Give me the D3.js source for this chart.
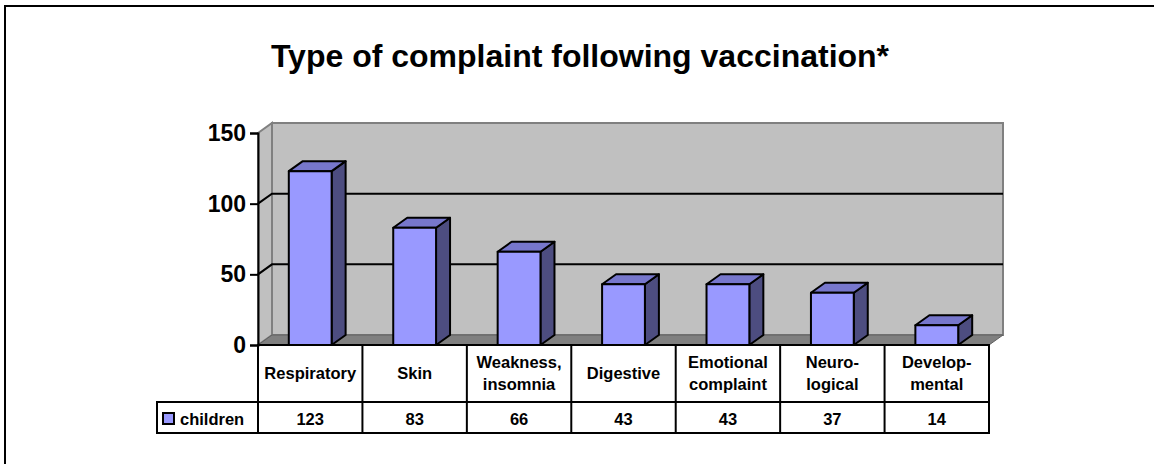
<!DOCTYPE html>
<html>
<head>
<meta charset="utf-8">
<script src="https://cdn.jsdelivr.net/npm/d3@7"></script>
<style>
  body { margin: 0; background: #fff; }
  text { font-family: "Liberation Sans", Arial, sans-serif; font-weight: bold; fill: #000; }
</style>
</head>
<body>
<svg width="1154" height="464"></svg>
<script>
const categories = [
  ["Respiratory"],
  ["Skin"],
  ["Weakness,", "insomnia"],
  ["Digestive"],
  ["Emotional", "complaint"],
  ["Neuro-", "logical"],
  ["Develop-", "mental"]
];
const children = [123, 83, 66, 43, 43, 37, 14];
const yTicks = [0, 50, 100, 150];
const seriesName = "children";
const title = "Type of complaint following vaccination*";

const svg = d3.select("svg");

// 3d depth offset
const dx = 14, dy = -10;

const x = d3.scaleBand()
  .domain(d3.range(categories.length))
  .range([258, 989])
  .padding(0);

const y = d3.scaleLinear()
  .domain([0, 150])
  .range([345, 133]);

const barW = x.bandwidth() * 0.41;

// outer frame
svg.append("rect")
  .attr("x", 5).attr("y", 6)
  .attr("width", 1160).attr("height", 470)
  .attr("fill", "none")
  .attr("stroke", "#000")
  .attr("stroke-width", 2);

svg.append("text")
  .attr("x", 580).attr("y", 67)
  .attr("text-anchor", "middle")
  .style("font-size", "32px")
  .text(title);

const x0 = x.range()[0], x1 = x.range()[1];
const yTop = y(150), yBot = y(0);

// back wall
svg.append("rect")
  .attr("x", x0 + dx).attr("y", yTop + dy)
  .attr("width", x1 - x0).attr("height", yBot - yTop)
  .attr("fill", "#c0c0c0")
  .attr("stroke", "#808080")
  .attr("stroke-width", 2);

// side wall
svg.append("path")
  .attr("d", `M${x0},${yTop}L${x0 + dx},${yTop + dy}L${x0 + dx},${yBot + dy}L${x0},${yBot}Z`)
  .attr("fill", "#c0c0c0")
  .attr("stroke", "#808080")
  .attr("stroke-width", 2);

// floor
svg.append("path")
  .attr("d", `M${x0},${yBot}L${x0 + dx},${yBot + dy}L${x1 + dx},${yBot + dy}L${x1},${yBot}Z`)
  .attr("fill", "#808080")
  .attr("stroke", "#606060")
  .attr("stroke-width", 1);

// gridlines
const grid = yTicks.filter(d => d > 0 && d < 150);
svg.append("g").selectAll("path")
  .data(grid)
  .join("path")
  .attr("d", d => `M${x0},${y(d)}L${x0 + dx},${y(d) + dy}L${x1 + dx},${y(d) + dy}`)
  .attr("fill", "none")
  .attr("stroke", "#000")
  .attr("stroke-width", 2);

// bars
const bars = svg.append("g").selectAll("g")
  .data(children)
  .join("g");

bars.each(function(v, i) {
  const g = d3.select(this);
  const bx = x(i) + (x.bandwidth() - barW) / 2;
  const top = y(v), bot = y(0);
  g.append("path")
    .attr("d", `M${bx + barW},${bot}L${bx + barW + dx},${bot + dy}L${bx + barW + dx},${top + dy}L${bx + barW},${top}Z`)
    .attr("fill", "#4d4d80");
  g.append("path")
    .attr("d", `M${bx},${top}L${bx + dx},${top + dy}L${bx + barW + dx},${top + dy}L${bx + barW},${top}Z`)
    .attr("fill", "#7777cc");
  g.append("rect")
    .attr("x", bx).attr("y", top)
    .attr("width", barW).attr("height", bot - top)
    .attr("fill", "#9999ff");
  g.selectAll("path, rect")
    .attr("stroke", "#000")
    .attr("stroke-width", 2)
    .attr("stroke-linejoin", "round");
});

// y axis
const yAxis = svg.append("g")
  .attr("transform", `translate(${x0},0)`)
  .call(d3.axisLeft(y).tickValues(yTicks).tickSize(8).tickPadding(4));
yAxis.select(".domain").attr("stroke-width", 2);
yAxis.selectAll(".tick line").attr("stroke-width", 2);
yAxis.selectAll(".tick text")
  .style("font-size", "23px")
  .style("font-family", '"Liberation Sans", Arial, sans-serif')
  .style("font-weight", "bold")
  .attr("fill", "#000");

// data table
const rowH1 = [345, 402], rowH2 = [402, 433];
const legendX = 157;
const tbl = svg.append("g");

const lines = [
  [x0, rowH1[0], x1, rowH1[0]],
  [legendX, rowH2[0], x1, rowH2[0]],
  [legendX, rowH2[1], x1, rowH2[1]],
  [legendX, rowH2[0], legendX, rowH2[1]]
];
x.domain().concat([categories.length]).forEach(i => {
  const xx = i < categories.length ? x(i) : x1;
  lines.push([xx, rowH1[0], xx, rowH2[1]]);
});
tbl.selectAll("line")
  .data(lines)
  .join("line")
  .attr("x1", d => d[0]).attr("y1", d => d[1])
  .attr("x2", d => d[2]).attr("y2", d => d[3])
  .attr("stroke", "#000")
  .attr("stroke-width", 2)
  .attr("stroke-linecap", "square");

const hdr = tbl.append("g").selectAll("text")
  .data(categories)
  .join("text")
  .attr("text-anchor", "middle")
  .style("font-size", "16.5px");
hdr.each(function(lbl, i) {
  const t = d3.select(this);
  const cx = x(i) + x.bandwidth() / 2;
  const base = lbl.length === 1 ? 379 : 368;
  lbl.forEach((s, k) => {
    t.append("tspan").attr("x", cx).attr("y", base + k * 22).text(s);
  });
});

tbl.append("g").selectAll("text")
  .data(children)
  .join("text")
  .attr("x", (d, i) => x(i) + x.bandwidth() / 2)
  .attr("y", 425)
  .attr("text-anchor", "middle")
  .style("font-size", "16.5px")
  .text(d => d);

// legend key
tbl.append("rect")
  .attr("x", 163).attr("y", 413)
  .attr("width", 11).attr("height", 11)
  .attr("fill", "#9999ff")
  .attr("stroke", "#000")
  .attr("stroke-width", 2);
tbl.append("text")
  .attr("x", 180).attr("y", 425)
  .style("font-size", "16.5px")
  .text(seriesName);
</script>
</body>
</html>
